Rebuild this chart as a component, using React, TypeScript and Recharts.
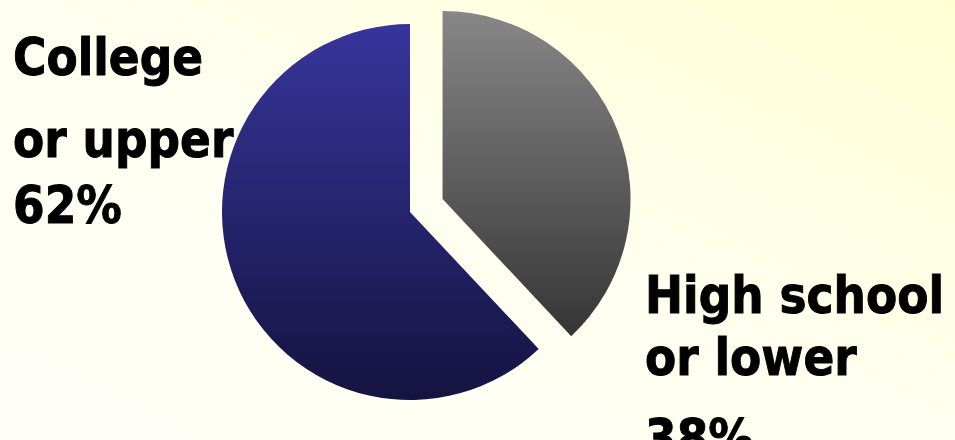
import { PieChart, Pie, Cell, Sector } from 'recharts';

const categories = ['High school or lower', 'College or upper'];
const shares = [38, 62];
const labelLines = [
  ['High school', 'or lower'],
  ['College', 'or upper'],
];

const pieData = categories.map((name, i) => ({ name, value: shares[i] }));

// where each text block sits, and per-line baselines
const labelAnchors = [
  { x: 645, ys: [313, 375, 456] },
  { x: 13, ys: [75, 157, 223] },
];
const fills = ['url(#grayFill)', 'url(#blueFill)'];
const EXPLODE = 35;

const RAD = Math.PI / 180;

function SliceShape(props: any) {
  const { index, midAngle, cx, cy } = props;
  const d = index === 0 ? EXPLODE : 0;
  const dx = d * Math.cos(-midAngle * RAD);
  const dy = d * Math.sin(-midAngle * RAD);
  return <Sector {...props} cx={cx + dx} cy={cy + dy} stroke="none" />;
}

function SliceLabel(props: any) {
  const { index } = props;
  const a = labelAnchors[index];
  const lines = [...labelLines[index], `${shares[index]}%`];
  return (
    <g>
      {lines.map((t, i) => (
        <text
          key={i}
          transform={`translate(${a.x},${a.ys[i]}) scale(1,1.12)`}
          x={0}
          y={0}
          fill="#000"
          stroke="#000"
          strokeWidth={0.9}
          fontFamily="'DejaVu Sans', Verdana, sans-serif"
          fontWeight="bold"
          fontSize={45.5}
        >
          {t}
        </text>
      ))}
    </g>
  );
}

export default function App() {
  return (
    <div
      style={{
        position: 'absolute',
        left: 0,
        top: 0,
        width: 955,
        height: 440,
        overflow: 'hidden',
        background: 'linear-gradient(to left bottom, #ffffd4 0%, #fffff0 50%, #fffff8 100%)',
      }}
    >
      <PieChart width={955} height={440} margin={{ top: 0, right: 0, bottom: 0, left: 0 }}>
        <defs>
          <linearGradient id="grayFill" x1="0" y1="0" x2="0" y2="1">
            <stop offset="0%" stopColor="#878787" />
            <stop offset="100%" stopColor="#353535" />
          </linearGradient>
          <linearGradient id="blueFill" x1="0" y1="0" x2="0" y2="1">
            <stop offset="0%" stopColor="#37359b" />
            <stop offset="100%" stopColor="#141340" />
          </linearGradient>
        </defs>
        <Pie
          data={pieData}
          dataKey="value"
          nameKey="name"
          cx={410}
          cy={212}
          outerRadius={188}
          startAngle={90}
          endAngle={-270}
          stroke="none"
          labelLine={false}
          label={SliceLabel}
          shape={SliceShape}
          isAnimationActive={false}
        >
          {pieData.map((_, i) => (
            <Cell key={i} fill={fills[i]} />
          ))}
        </Pie>
      </PieChart>
    </div>
  );
}
